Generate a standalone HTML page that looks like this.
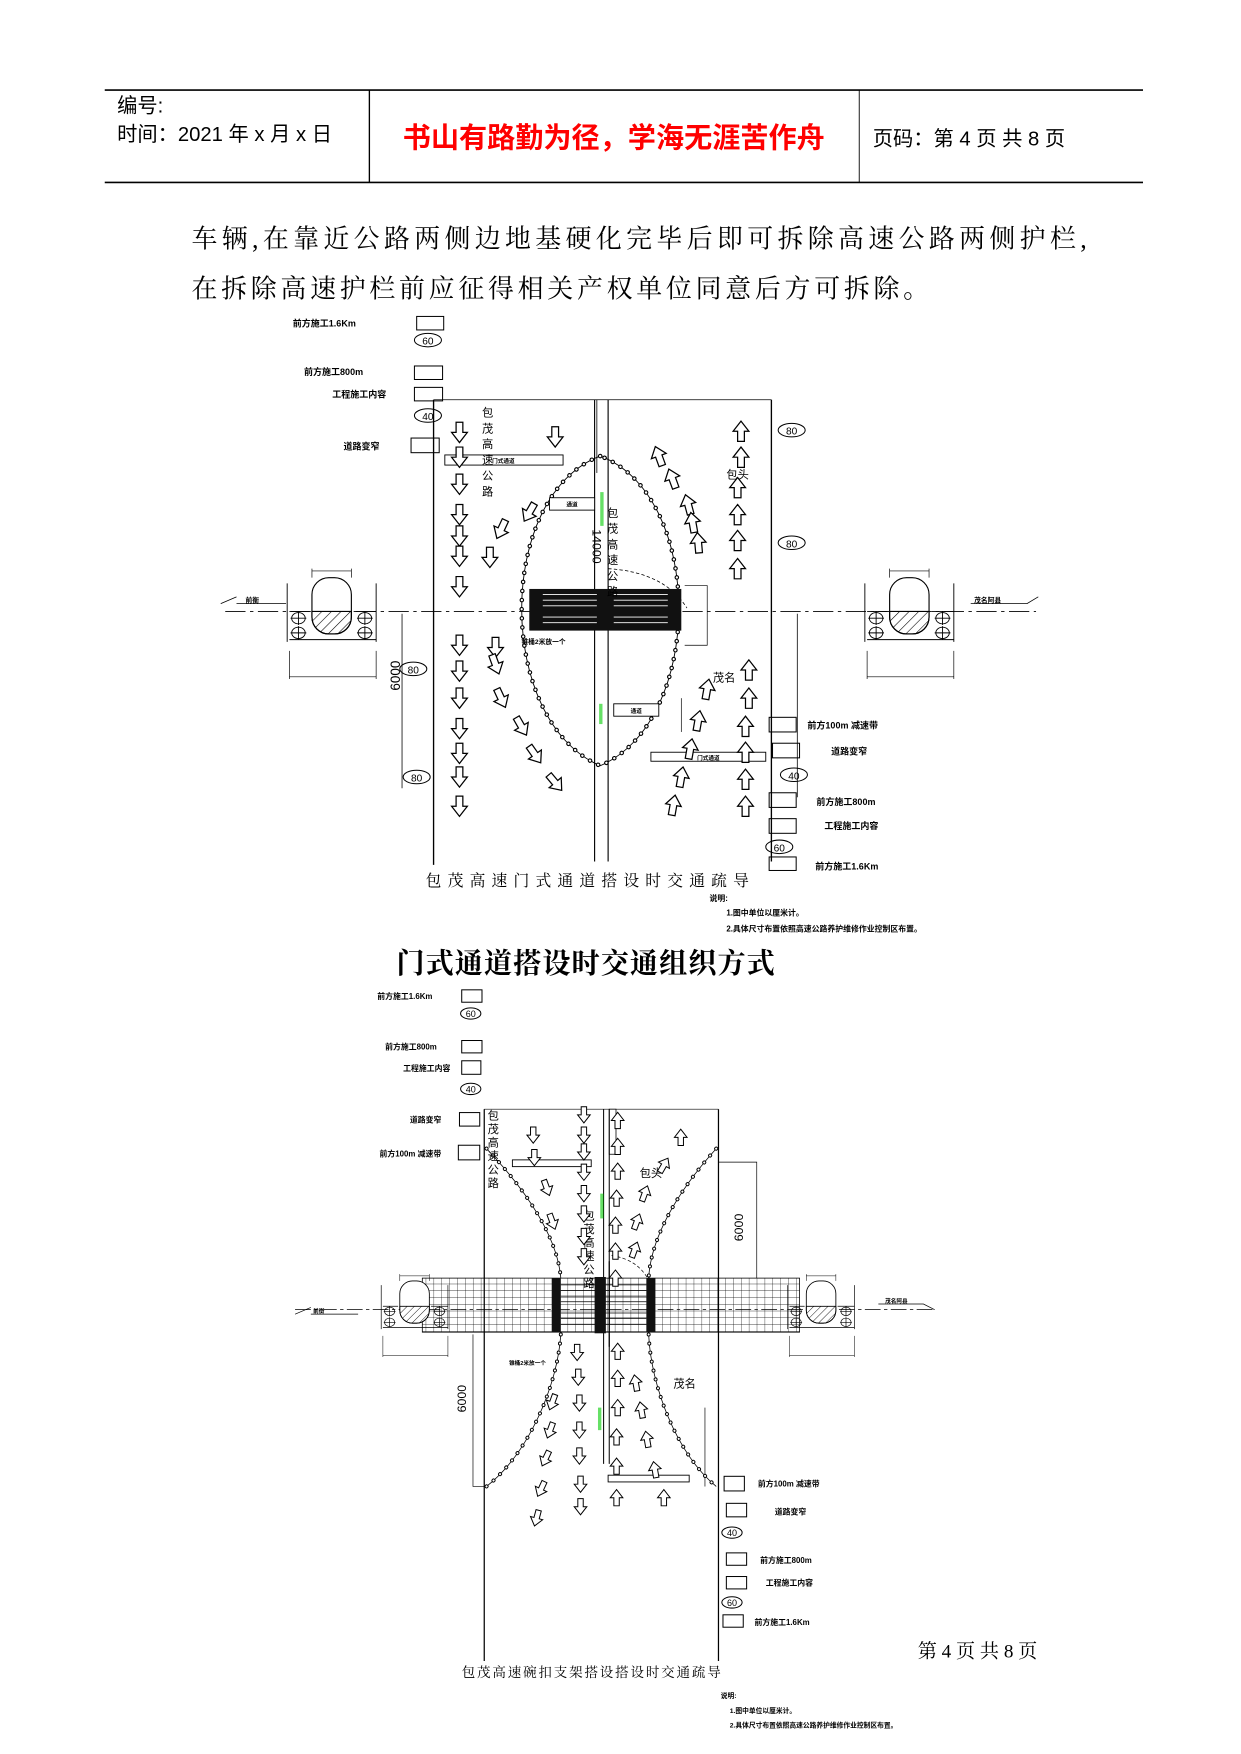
<!DOCTYPE html>
<html><head><meta charset="utf-8"><style>
html,body{margin:0;padding:0;background:#fff}
svg{display:block}
text{font-family:"Liberation Sans","Noto Sans CJK SC",sans-serif}
.s{font-family:"Liberation Serif","Noto Serif CJK SC",serif}
</style></head><body>
<svg width="1241" height="1754" viewBox="0 0 1102 1557.6" xmlns="http://www.w3.org/2000/svg">
<defs>
<symbol id="ad" viewBox="-8 -10 16 20" overflow="visible"><path d="M-3,-9 L3,-9 L3,0 L7,0 L0,9 L-7,0 L-3,0 Z" fill="#fff" stroke="#000" stroke-width="1.1"/></symbol>
<pattern id="hat" width="6" height="6" patternUnits="userSpaceOnUse" patternTransform="rotate(45)"><line x1="0" y1="0" x2="0" y2="6" stroke="#000" stroke-width="1"/></pattern>
<pattern id="grid" width="7" height="6" patternUnits="userSpaceOnUse"><path d="M0,0 H7 M0,0 V6" stroke="#000" stroke-width="0.6" fill="none"/></pattern>
<g id="pier">
 <rect x="0" y="-30" width="35" height="50" rx="15" fill="#fff" stroke="#000"/>
 <path d="M0,0 H35 V5 A15,15 0 0 1 20,20 H15 A15,15 0 0 1 0,5 Z" fill="url(#hat)" stroke="#000"/>
 <line x1="0" y1="-36" x2="35" y2="-36" stroke="#000" stroke-width="0.6"/>
 <line x1="0" y1="-38" x2="0" y2="-30" stroke="#000" stroke-width="0.6"/><line x1="35" y1="-38" x2="35" y2="-30" stroke="#000" stroke-width="0.6"/>
 <g fill="none" stroke="#000" stroke-width="0.8">
 <ellipse cx="-12" cy="6" rx="6" ry="5"/><path d="M-19,6 H-5 M-12,0 V12"/>
 <ellipse cx="-12" cy="19" rx="6" ry="5"/><path d="M-19,19 H-5 M-12,13 V25"/>
 <ellipse cx="47" cy="6" rx="6" ry="5"/><path d="M40,6 H54 M47,0 V12"/>
 <ellipse cx="47" cy="19" rx="6" ry="5"/><path d="M40,19 H54 M47,13 V25"/>
 </g>
 <path d="M-20,0 H-2 M37,0 H57 M-20,25 H57 M-22,-25 V27 M57,-25 V27" stroke="#000" stroke-width="0.8" fill="none"/>
 <path d="M-20,35 V60 M57,35 V60 M-20,58 H57" stroke="#000" stroke-width="0.6" fill="none"/>
</g>
</defs>

<!-- header -->
<line x1="93" y1="80" x2="1015" y2="80" stroke="#000" stroke-width="1.5"/>
<line x1="93" y1="162" x2="1015" y2="162" stroke="#000" stroke-width="1.5"/>
<line x1="328" y1="80" x2="328" y2="162" stroke="#000" stroke-width="1.2"/>
<line x1="763" y1="80" x2="763" y2="162" stroke="#000" stroke-width="0.8"/>
<text x="104" y="100" font-size="18">编号:</text>
<text x="104" y="125" font-size="18">时间：2021 年 x 月 x 日</text>
<text x="545" y="131" font-size="25" fill="#f00" text-anchor="middle" font-weight="bold">书山有路勤为径，学海无涯苦作舟</text>
<text x="775" y="129" font-size="18">页码：第 4 页  共 8 页</text>

<text x="170" y="220" font-size="23" class="s" textLength="795" lengthAdjust="spacing">车辆,在靠近公路两侧边地基硬化完毕后即可拆除高速公路两侧护栏,</text>
<text x="170" y="264" font-size="23" class="s" textLength="655" lengthAdjust="spacing">在拆除高速护栏前应征得相关产权单位同意后方可拆除。</text>

<!-- ============ DIAGRAM 1 ============ -->
<g font-size="8" font-weight="bold">
<text x="260" y="290">前方施工1.6Km</text>
<text x="270" y="333">前方施工800m</text>
<text x="295" y="353">工程施工内容</text>
<text x="305" y="399">道路变窄</text>
</g>
<g fill="none" stroke="#000" stroke-width="0.9">
<rect x="370" y="281" width="24" height="12"/>
<rect x="368" y="325" width="25" height="12"/>
<rect x="368" y="344" width="25" height="12"/>
<rect x="365" y="389" width="25" height="13"/>
<ellipse cx="380" cy="302" rx="12" ry="6"/>
<ellipse cx="380" cy="369" rx="12" ry="6"/>
<ellipse cx="703" cy="382" rx="12" ry="6"/>
<ellipse cx="703" cy="482" rx="12" ry="6"/>
<ellipse cx="367" cy="594" rx="12" ry="6"/>
<ellipse cx="370" cy="690" rx="12" ry="6"/>
</g>
<g font-size="9" text-anchor="middle"><text x="380" y="306">60</text><text x="380" y="373">40</text>
<text x="703" y="386">80</text><text x="703" y="486">80</text><text x="367" y="598">80</text><text x="370" y="694">80</text></g>

<g stroke="#000" fill="none">
<line x1="385" y1="355" x2="385" y2="768" stroke-width="1.2"/>
<line x1="685" y1="355" x2="685" y2="765" stroke-width="1.2"/>
<line x1="528" y1="355" x2="528" y2="765" stroke-width="1"/>
<line x1="540" y1="355" x2="540" y2="765" stroke-width="1"/>
<line x1="385" y1="355" x2="685" y2="355" stroke-width="0.7"/>
<line x1="530" y1="355" x2="530" y2="420" stroke-width="0.7"/>
<line x1="200" y1="543" x2="920" y2="543" stroke-width="0.8" stroke-dasharray="18 4 3 4"/>
<path d="M196,536 L210,530 M210,536 H254" stroke-width="0.7"/>
<path d="M862,536 H912 L922,530" stroke-width="0.7"/>
<line x1="357" y1="545" x2="357" y2="700" stroke-width="0.7"/>
<line x1="708" y1="545" x2="708" y2="708" stroke-width="0.7"/>
<path d="M540,505 Q590,508 610,540" stroke-width="0.7" stroke-dasharray="3 2"/>
<path d="M608,520 H628 V573 H608" stroke-width="0.6"/>
<line x1="605" y1="620" x2="605" y2="650" stroke-width="0.6"/>
</g>
<!-- lens guardrail -->
<path d="M533,405 C440,440 440,640 533,680 C626,640 626,440 533,405 Z" fill="none" stroke="#000" stroke-width="0.8"/>
<path d="M533,405 C440,440 440,640 533,680 C626,640 626,440 533,405 Z" fill="none" stroke="#000" stroke-width="4" stroke-dasharray="0.1 8" stroke-linecap="round"/>
<path d="M533,405 C440,440 440,640 533,680 C626,640 626,440 533,405 Z" fill="none" stroke="#fff" stroke-width="2" stroke-dasharray="0.1 8" stroke-linecap="round"/>
<!-- bridge block -->
<rect x="470" y="523" width="135" height="37" fill="#111"/>
<g stroke="#fff" stroke-width="0.8">
<line x1="482" y1="528" x2="530" y2="528"/><line x1="482" y1="533" x2="530" y2="533"/><line x1="482" y1="538" x2="530" y2="538"/><line x1="482" y1="548" x2="530" y2="548"/><line x1="482" y1="553" x2="530" y2="553"/>
<line x1="545" y1="528" x2="593" y2="528"/><line x1="545" y1="533" x2="593" y2="533"/><line x1="545" y1="538" x2="593" y2="538"/><line x1="545" y1="548" x2="593" y2="548"/><line x1="545" y1="553" x2="593" y2="553"/>
</g>
<rect x="533" y="437" width="3" height="30" fill="#0c0" opacity="0.6"/>
<rect x="532" y="625" width="3" height="18" fill="#0c0" opacity="0.6"/>
<g fill="#fff" stroke="#000" stroke-width="0.8">
<rect x="395" y="404" width="105" height="9"/>
<rect x="488" y="442" width="40" height="11"/>
<rect x="545" y="625" width="40" height="11"/>
<rect x="578" y="668" width="102" height="8"/>
</g>
<g font-size="5" font-weight="bold" text-anchor="middle"><text x="447" y="411">门式通道</text><text x="508" y="450">通道</text><text x="565" y="633">通道</text><text x="629" y="675">门式通道</text></g>
<g font-size="10" text-anchor="middle">
<text x="433" y="370">包</text><text x="433" y="384">茂</text><text x="433" y="398">高</text><text x="433" y="412">速</text><text x="433" y="426">公</text><text x="433" y="440">路</text>
<text x="544" y="459">包</text><text x="544" y="473">茂</text><text x="544" y="487">高</text><text x="544" y="501">速</text><text x="544" y="515">公</text><text x="544" y="529">路</text>
<text x="655" y="425">包头</text><text x="643" y="605">茂名</text>
</g>
<text x="526" y="470" font-size="11" transform="rotate(90 526 470)">14000</text>
<text x="355" y="600" font-size="12" transform="rotate(-90 355 600)" text-anchor="middle">6000</text>
<text x="463" y="572" font-size="6" font-weight="bold">锥桶2米放一个</text>
<use href="#pier" x="277" y="543"/>
<use href="#pier" x="790" y="543"/>
<text x="218" y="535" font-size="6" font-weight="bold">前衡</text>
<text x="865" y="535" font-size="6" font-weight="bold">茂名阿县</text>
<!-- arrows d1 down -->
<g>
<use href="#ad" x="400" y="374" width="16" height="20"/><use href="#ad" x="400" y="396" width="16" height="20"/>
<use href="#ad" x="400" y="420" width="16" height="20"/><use href="#ad" x="400" y="447" width="16" height="20"/>
<use href="#ad" x="400" y="466" width="16" height="20"/><use href="#ad" x="400" y="484" width="16" height="20"/>
<use href="#ad" x="400" y="511" width="16" height="20"/><use href="#ad" x="400" y="563" width="16" height="20"/>
<use href="#ad" x="400" y="586" width="16" height="20"/><use href="#ad" x="400" y="610" width="16" height="20"/>
<use href="#ad" x="400" y="637" width="16" height="20"/><use href="#ad" x="400" y="659" width="16" height="20"/>
<use href="#ad" x="400" y="680" width="16" height="20"/><use href="#ad" x="400" y="706" width="16" height="20"/>
<use href="#ad" x="485" y="378" width="16" height="20"/>
<use href="#ad" x="427" y="485" width="16" height="20"/>
<g transform="rotate(25 445 470)"><use href="#ad" x="437" y="460" width="16" height="20"/></g>
<g transform="rotate(30 470 455)"><use href="#ad" x="462" y="445" width="16" height="20"/></g>
<use href="#ad" x="432" y="565" width="16" height="20"/>
<g transform="rotate(-20 440 590)"><use href="#ad" x="432" y="580" width="16" height="20"/></g>
<g transform="rotate(-25 445 620)"><use href="#ad" x="437" y="610" width="16" height="20"/></g>
<g transform="rotate(-30 463 645)"><use href="#ad" x="455" y="635" width="16" height="20"/></g>
<g transform="rotate(-35 475 670)"><use href="#ad" x="467" y="660" width="16" height="20"/></g>
<g transform="rotate(-40 493 695)"><use href="#ad" x="485" y="685" width="16" height="20"/></g>
</g>
<!-- arrows d1 up -->
<g>
<g transform="rotate(180 658 383)"><use href="#ad" x="650" y="373" width="16" height="20"/></g>
<g transform="rotate(180 658 406)"><use href="#ad" x="650" y="396" width="16" height="20"/></g>
<g transform="rotate(180 655 433)"><use href="#ad" x="647" y="423" width="16" height="20"/></g>
<g transform="rotate(180 655 457)"><use href="#ad" x="647" y="447" width="16" height="20"/></g>
<g transform="rotate(180 655 480)"><use href="#ad" x="647" y="470" width="16" height="20"/></g>
<g transform="rotate(180 655 505)"><use href="#ad" x="647" y="495" width="16" height="20"/></g>
<g transform="rotate(160 585 405)"><use href="#ad" x="577" y="395" width="16" height="20"/></g>
<g transform="rotate(160 597 425)"><use href="#ad" x="589" y="415" width="16" height="20"/></g>
<g transform="rotate(165 611 448)"><use href="#ad" x="603" y="438" width="16" height="20"/></g>
<g transform="rotate(170 615 464)"><use href="#ad" x="607" y="454" width="16" height="20"/></g>
<g transform="rotate(175 620 482)"><use href="#ad" x="612" y="472" width="16" height="20"/></g>
<g transform="rotate(180 665 595)"><use href="#ad" x="657" y="585" width="16" height="20"/></g>
<g transform="rotate(180 665 620)"><use href="#ad" x="657" y="610" width="16" height="20"/></g>
<g transform="rotate(180 662 645)"><use href="#ad" x="654" y="635" width="16" height="20"/></g>
<g transform="rotate(180 662 668)"><use href="#ad" x="654" y="658" width="16" height="20"/></g>
<g transform="rotate(180 662 692)"><use href="#ad" x="654" y="682" width="16" height="20"/></g>
<g transform="rotate(180 662 716)"><use href="#ad" x="654" y="706" width="16" height="20"/></g>
<g transform="rotate(190 628 612)"><use href="#ad" x="620" y="602" width="16" height="20"/></g>
<g transform="rotate(190 620 640)"><use href="#ad" x="612" y="630" width="16" height="20"/></g>
<g transform="rotate(190 613 665)"><use href="#ad" x="605" y="655" width="16" height="20"/></g>
<g transform="rotate(190 605 690)"><use href="#ad" x="597" y="680" width="16" height="20"/></g>
<g transform="rotate(190 598 715)"><use href="#ad" x="590" y="705" width="16" height="20"/></g>
</g>
<!-- right signs d1 -->
<g fill="none" stroke="#000" stroke-width="0.9">
<rect x="683" y="637" width="24" height="13"/>
<rect x="686" y="660" width="24" height="13"/>
<ellipse cx="705" cy="688" rx="12" ry="6"/>
<rect x="683" y="704" width="24" height="13"/>
<rect x="683" y="727" width="24" height="13"/>
<ellipse cx="692" cy="752" rx="12" ry="6"/>
<rect x="683" y="761" width="24" height="12"/>
</g>
<g font-size="9" text-anchor="middle"><text x="705" y="692">40</text><text x="692" y="756">60</text></g>
<g font-size="8" font-weight="bold">
<text x="717" y="647">前方100m 减速带</text>
<text x="738" y="670">道路变窄</text>
<text x="725" y="715">前方施工800m</text>
<text x="732" y="736">工程施工内容</text>
<text x="724" y="772">前方施工1.6Km</text>
</g>
<text x="378" y="787" font-size="14" class="s" textLength="287">包茂高速门式通道搭设时交通疏导</text>
<g font-size="7" font-weight="bold"><text x="630" y="800">说明:</text><text x="645" y="813">1.图中单位以厘米计。</text><text x="645" y="827">2.具体尺寸布置依照高速公路养护维修作业控制区布置。</text></g>

<text x="352" y="864" font-size="25" font-weight="bold" class="s" textLength="336">门式通道搭设时交通组织方式</text>

<!-- ============ DIAGRAM 2 ============ -->
<g font-size="7" font-weight="bold">
<text x="335" y="887">前方施工1.6Km</text>
<text x="342" y="932">前方施工800m</text>
<text x="358" y="951">工程施工内容</text>
<text x="364" y="997">道路变窄</text>
<text x="337" y="1027">前方100m 减速带</text>
</g>
<g fill="none" stroke="#000" stroke-width="0.9">
<rect x="410" y="879" width="18" height="11"/>
<ellipse cx="418" cy="900" rx="9" ry="5"/>
<rect x="410" y="924" width="18" height="11"/>
<rect x="410" y="942" width="17" height="12"/>
<ellipse cx="418" cy="967" rx="9" ry="5"/>
<rect x="408" y="988" width="18" height="12"/>
<rect x="407" y="1017" width="19" height="13"/>
</g>
<g font-size="8" text-anchor="middle"><text x="418" y="903">60</text><text x="418" y="970">40</text></g>
<g stroke="#000" fill="none">
<line x1="430" y1="985" x2="430" y2="1475" stroke-width="1.1"/>
<line x1="638" y1="985" x2="638" y2="1475" stroke-width="1.1"/>
<line x1="536" y1="985" x2="536" y2="1300" stroke-width="0.9"/>
<line x1="541" y1="985" x2="541" y2="1300" stroke-width="0.9"/>
<rect x="541" y="985" width="6" height="40" stroke-width="0.7"/>
<line x1="430" y1="985" x2="638" y2="985" stroke-width="0.6"/>
<line x1="262" y1="1163" x2="830" y2="1163" stroke-width="0.6" stroke-dasharray="14 3 3 3"/>
<path d="M262,1167 L276,1161 M276,1167 H318" stroke-width="0.6"/>
<path d="M780,1158 H820 L830,1163" stroke-width="0.6"/>
<path d="M638,1032 H672 V1135" stroke-width="0.6"/>
<path d="M420,1185 V1320 H430" stroke-width="0.6"/>
<line x1="626" y1="1250" x2="626" y2="1320" stroke-width="0.6"/>
<path d="M543,1115 Q565,1118 575,1135" stroke-width="0.6" stroke-dasharray="3 2"/>
</g>
<rect x="375" y="1135" width="335" height="48" fill="url(#grid)" stroke="#000" stroke-width="0.7"/>
<rect x="490" y="1135" width="8" height="48" fill="#111"/>
<g stroke="#000" stroke-width="0.7">
<line x1="498" y1="1141" x2="574" y2="1141"/><line x1="498" y1="1146" x2="574" y2="1146"/><line x1="498" y1="1151" x2="574" y2="1151"/><line x1="498" y1="1156" x2="574" y2="1156"/><line x1="498" y1="1166" x2="574" y2="1166"/><line x1="498" y1="1171" x2="574" y2="1171"/><line x1="498" y1="1176" x2="574" y2="1176"/>
</g>
<rect x="528" y="1134" width="10" height="50" fill="#111"/>
<rect x="574" y="1135" width="8" height="48" fill="#111"/>
<line x1="541" y1="1120" x2="541" y2="1196" stroke="#000" stroke-width="1"/>
<path d="M432,1020 C470,1060 495,1100 498,1135 M636,1020 C600,1060 578,1100 576,1135 M498,1185 C495,1230 470,1290 432,1320 M576,1185 C578,1230 600,1290 636,1320" fill="none" stroke="#000" stroke-width="0.7"/>
<path d="M432,1020 C470,1060 495,1100 498,1135 M636,1020 C600,1060 578,1100 576,1135 M498,1185 C495,1230 470,1290 432,1320 M576,1185 C578,1230 600,1290 636,1320" fill="none" stroke="#000" stroke-width="3.5" stroke-dasharray="0.1 8" stroke-linecap="round"/>
<path d="M432,1020 C470,1060 495,1100 498,1135 M636,1020 C600,1060 578,1100 576,1135 M498,1185 C495,1230 470,1290 432,1320 M576,1185 C578,1230 600,1290 636,1320" fill="none" stroke="#fff" stroke-width="1.8" stroke-dasharray="0.1 8" stroke-linecap="round"/>
<rect x="533" y="1060" width="3" height="22" fill="#0c0" opacity="0.6"/>
<rect x="531" y="1250" width="3" height="20" fill="#0c0" opacity="0.6"/>
<g fill="#fff" stroke="#000" stroke-width="0.8">
<rect x="455" y="1030" width="70" height="6"/>
<rect x="540" y="1310" width="72" height="6"/>
</g>
<g font-size="10" text-anchor="middle">
<text x="438" y="994">包</text><text x="438" y="1006">茂</text><text x="438" y="1018">高</text><text x="438" y="1030">速</text><text x="438" y="1042">公</text><text x="438" y="1054">路</text>
<text x="523" y="1083">包</text><text x="523" y="1095">茂</text><text x="523" y="1107">高</text><text x="523" y="1119">速</text><text x="523" y="1131">公</text><text x="523" y="1143">路</text>
<text x="578" y="1045">包头</text><text x="608" y="1232">茂名</text>
</g>
<text x="660" y="1090" font-size="11" transform="rotate(-90 660 1090)" text-anchor="middle">6000</text>
<text x="414" y="1242" font-size="11" transform="rotate(-90 414 1242)" text-anchor="middle">6000</text>
<text x="452" y="1212" font-size="5" font-weight="bold">锥桶2米放一个</text>
<g transform="translate(355 1160) scale(0.75)"><use href="#pier" x="0" y="0"/></g>
<g transform="translate(716 1160) scale(0.75)"><use href="#pier" x="0" y="0"/></g>
<text x="278" y="1166" font-size="5" font-weight="bold">前衡</text>
<text x="786" y="1157" font-size="5" font-weight="bold">茂名阿县</text>
<!-- d2 down arrows -->
<g>
<use href="#ad" x="512" y="982" width="13" height="16"/><use href="#ad" x="512" y="1000" width="13" height="16"/><use href="#ad" x="512" y="1015" width="13" height="16"/><use href="#ad" x="512" y="1033" width="13" height="16"/><use href="#ad" x="512" y="1052" width="13" height="16"/><use href="#ad" x="512" y="1070" width="13" height="16"/><use href="#ad" x="512" y="1090" width="13" height="16"/><use href="#ad" x="512" y="1108" width="13" height="16"/>
<use href="#ad" x="467" y="1000" width="13" height="16"/><use href="#ad" x="468" y="1020" width="13" height="16"/>
<g transform="rotate(-20 485 1055)"><use href="#ad" x="479" y="1047" width="13" height="16"/></g>
<g transform="rotate(-20 490 1085)"><use href="#ad" x="484" y="1077" width="13" height="16"/></g>
<use href="#ad" x="506" y="1193" width="13" height="16"/><use href="#ad" x="507" y="1215" width="13" height="16"/><use href="#ad" x="508" y="1238" width="13" height="16"/><use href="#ad" x="508" y="1262" width="13" height="16"/><use href="#ad" x="508" y="1285" width="13" height="16"/><use href="#ad" x="509" y="1310" width="13" height="16"/><use href="#ad" x="509" y="1330" width="13" height="16"/>
<g transform="rotate(20 490 1245)"><use href="#ad" x="484" y="1237" width="13" height="16"/></g>
<g transform="rotate(20 488 1270)"><use href="#ad" x="482" y="1262" width="13" height="16"/></g>
<g transform="rotate(25 484 1295)"><use href="#ad" x="478" y="1287" width="13" height="16"/></g>
<g transform="rotate(25 480 1322)"><use href="#ad" x="474" y="1314" width="13" height="16"/></g>
<g transform="rotate(15 476 1348)"><use href="#ad" x="470" y="1340" width="13" height="16"/></g>
</g>
<!-- d2 up arrows -->
<g>
<g transform="rotate(180 549 995)"><use href="#ad" x="543" y="987" width="13" height="16"/></g>
<g transform="rotate(180 549 1018)"><use href="#ad" x="543" y="1010" width="13" height="16"/></g>
<g transform="rotate(180 549 1040)"><use href="#ad" x="543" y="1032" width="13" height="16"/></g>
<g transform="rotate(180 548 1064)"><use href="#ad" x="542" y="1056" width="13" height="16"/></g>
<g transform="rotate(180 547 1088)"><use href="#ad" x="541" y="1080" width="13" height="16"/></g>
<g transform="rotate(180 547 1111)"><use href="#ad" x="541" y="1103" width="13" height="16"/></g>
<g transform="rotate(180 547 1135)"><use href="#ad" x="541" y="1127" width="13" height="16"/></g>
<g transform="rotate(180 605 1010)"><use href="#ad" x="599" y="1002" width="13" height="16"/></g>
<g transform="rotate(210 590 1035)"><use href="#ad" x="584" y="1027" width="13" height="16"/></g>
<g transform="rotate(200 573 1060)"><use href="#ad" x="567" y="1052" width="13" height="16"/></g>
<g transform="rotate(200 566 1085)"><use href="#ad" x="560" y="1077" width="13" height="16"/></g>
<g transform="rotate(200 564 1110)"><use href="#ad" x="558" y="1102" width="13" height="16"/></g>
<g transform="rotate(180 549 1200)"><use href="#ad" x="543" y="1192" width="13" height="16"/></g>
<g transform="rotate(180 549 1224)"><use href="#ad" x="543" y="1216" width="13" height="16"/></g>
<g transform="rotate(180 549 1250)"><use href="#ad" x="543" y="1242" width="13" height="16"/></g>
<g transform="rotate(180 548 1276)"><use href="#ad" x="542" y="1268" width="13" height="16"/></g>
<g transform="rotate(180 548 1302)"><use href="#ad" x="542" y="1294" width="13" height="16"/></g>
<g transform="rotate(180 548 1330)"><use href="#ad" x="542" y="1322" width="13" height="16"/></g>
<g transform="rotate(170 565 1228)"><use href="#ad" x="559" y="1220" width="13" height="16"/></g>
<g transform="rotate(170 570 1252)"><use href="#ad" x="564" y="1244" width="13" height="16"/></g>
<g transform="rotate(170 575 1278)"><use href="#ad" x="569" y="1270" width="13" height="16"/></g>
<g transform="rotate(170 582 1305)"><use href="#ad" x="576" y="1297" width="13" height="16"/></g>
<g transform="rotate(180 590 1330)"><use href="#ad" x="584" y="1322" width="13" height="16"/></g>
</g>
<!-- right signs d2 -->
<g fill="none" stroke="#000" stroke-width="0.9">
<rect x="643" y="1311" width="18" height="13"/>
<rect x="645" y="1335" width="18" height="12"/>
<ellipse cx="650" cy="1361" rx="9" ry="5"/>
<rect x="645" y="1379" width="18" height="11"/>
<rect x="645" y="1400" width="18" height="11"/>
<ellipse cx="650" cy="1423" rx="9" ry="5"/>
<rect x="642" y="1434" width="18" height="11"/>
</g>
<g font-size="8" text-anchor="middle"><text x="650" y="1364">40</text><text x="650" y="1426">60</text></g>
<g font-size="7" font-weight="bold">
<text x="673" y="1320">前方100m 减速带</text>
<text x="688" y="1345">道路变窄</text>
<text x="675" y="1388">前方施工800m</text>
<text x="680" y="1408">工程施工内容</text>
<text x="670" y="1443">前方施工1.6Km</text>
</g>
<text x="815" y="1472" font-size="17" class="s">第 4 页 共 8 页</text>
<text x="410" y="1489" font-size="12" class="s" textLength="230">包茂高速碗扣支架搭设搭设时交通疏导</text>
<g font-size="6" font-weight="bold"><text x="640" y="1508">说明:</text><text x="648" y="1521">1.图中单位以厘米计。</text><text x="648" y="1534">2.具体尺寸布置依照高速公路养护维修作业控制区布置。</text></g>
</svg>
</body></html>
